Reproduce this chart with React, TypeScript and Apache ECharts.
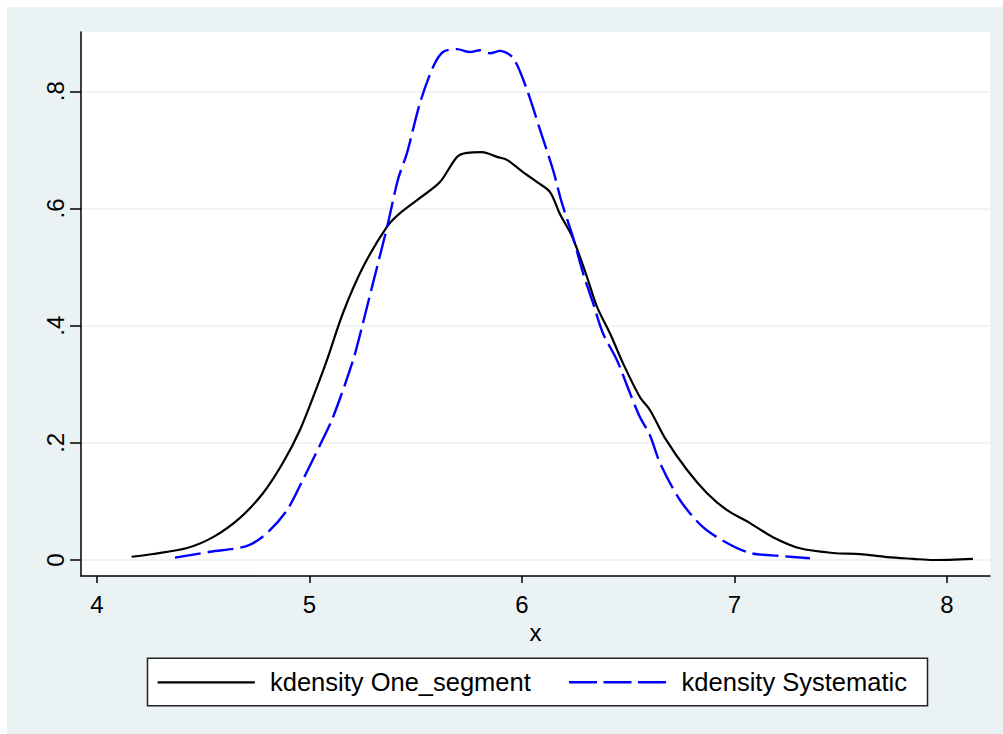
import React, { useEffect, useRef } from "react";
import * as echarts from "echarts";

// kdensity One_segment (black solid)
const oneSegX = [4.163, 4.264, 4.424, 4.546, 4.673, 4.781, 4.875, 4.955, 5.035, 5.082, 5.158, 5.252, 5.365, 5.426, 5.52, 5.614, 5.694, 5.741, 5.812, 5.882, 5.929, 6.005, 6.071, 6.132, 6.179, 6.235, 6.306, 6.353, 6.414, 6.475, 6.555, 6.602, 6.673, 6.776, 6.871, 6.965, 7.073, 7.181, 7.308, 7.464, 7.591, 7.718, 7.84, 7.934, 8.122];
const oneSegY = [0.0056, 0.0102, 0.0205, 0.039, 0.072, 0.114, 0.166, 0.222, 0.295, 0.341, 0.422, 0.5, 0.569, 0.592, 0.618, 0.645, 0.688, 0.695, 0.696, 0.688, 0.683, 0.662, 0.645, 0.628, 0.59, 0.553, 0.483, 0.432, 0.387, 0.336, 0.278, 0.256, 0.208, 0.154, 0.114, 0.085, 0.063, 0.039, 0.02, 0.012, 0.01, 0.005, 0.002, 0.0, 0.002];

// kdensity Systematic (blue dashed)
const systX = [4.367, 4.532, 4.706, 4.8, 4.894, 4.969, 5.049, 5.111, 5.205, 5.252, 5.299, 5.365, 5.416, 5.459, 5.52, 5.581, 5.628, 5.694, 5.755, 5.802, 5.849, 5.896, 5.958, 6.024, 6.085, 6.146, 6.188, 6.24, 6.287, 6.334, 6.381, 6.447, 6.508, 6.555, 6.602, 6.649, 6.744, 6.852, 6.965, 7.073, 7.214, 7.355];
const systY = [0.004, 0.014, 0.024, 0.046, 0.085, 0.137, 0.196, 0.244, 0.341, 0.405, 0.473, 0.568, 0.649, 0.695, 0.78, 0.841, 0.867, 0.872, 0.867, 0.87, 0.865, 0.869, 0.857, 0.802, 0.734, 0.666, 0.609, 0.551, 0.49, 0.439, 0.387, 0.341, 0.285, 0.244, 0.213, 0.166, 0.102, 0.056, 0.029, 0.012, 0.007, 0.003];

const xTicks = [4, 5, 6, 7, 8];
const yTicks = [0, 0.2, 0.4, 0.6, 0.8];
const yTickLabels = ["0", ".2", ".4", ".6", ".8"];
const legendNames = ["kdensity One_segment", "kdensity Systematic"];
const xName = "x";

const FONT = "'Liberation Sans', Arial, Helvetica, sans-serif";
const BG = "#EAF2F3";

export default function App() {
  const ref = useRef<HTMLDivElement>(null);
  useEffect(() => {
    if (!ref.current) return;
    const chart = echarts.init(ref.current, null, { renderer: "svg" });
    const oneSeg = oneSegX.map((x, i) => [x, oneSegY[i]]);
    const syst = systX.map((x, i) => [x, systY[i]]);
    chart.setOption({
      animation: false,
      backgroundColor: BG,
      textStyle: { fontFamily: FONT },
      grid: {
        left: 74,
        top: 25,
        right: 13,
        bottom: 158,
        show: true,
        backgroundColor: "#ffffff",
        borderWidth: 0,
      },
      xAxis: {
        type: "value",
        min: 3.9247,
        max: 8.2024,
        name: xName,
        nameLocation: "middle",
        nameGap: 42,
        nameTextStyle: { fontSize: 24, color: "#000", fontFamily: FONT },
        axisLine: { show: true, onZero: false, lineStyle: { color: "#000", width: 1.5 } },
        axisTick: { show: true, length: 7, customValues: xTicks, lineStyle: { color: "#000", width: 1.5 } },
        axisLabel: { customValues: xTicks, fontSize: 24, color: "#000", margin: 16, fontFamily: FONT },
        splitLine: { show: false },
      },
      yAxis: {
        type: "value",
        min: -0.0273,
        max: 0.9012,
        axisLine: { show: true, onZero: false, lineStyle: { color: "#000", width: 1.5 } },
        axisTick: { show: true, length: 11, customValues: yTicks, lineStyle: { color: "#000", width: 1.5 } },
        axisLabel: {
          customValues: yTicks,
          fontSize: 24,
          color: "#000",
          rotate: 90,
          margin: 14,
          fontFamily: FONT,
          formatter: (v: number) => {
            const idx = yTicks.findIndex((t) => Math.abs(t - v) < 1e-6);
            return idx >= 0 ? yTickLabels[idx] : "";
          },
        },
        splitLine: { show: true, lineStyle: { color: BG, width: 1.5 } },
      },
      series: [
        {
          name: legendNames[0],
          type: "line",
          data: oneSeg,
          showSymbol: false,
          symbol: "none",
          smooth: 0.3,
          lineStyle: { color: "#000000", width: 2.2 },
          z: 3,
        },
        {
          name: legendNames[1],
          type: "line",
          data: syst,
          showSymbol: false,
          symbol: "none",
          smooth: 0.3,
          lineStyle: { color: "#0000FF", width: 2.4, type: [26, 7] },
          z: 4,
        },
      ],
      graphic: [
        {
          type: "rect",
          shape: { x: 140.5, y: 651.3, width: 780, height: 47.5 },
          style: { fill: "#ffffff", stroke: "#222", lineWidth: 1.5 },
        },
        {
          type: "line",
          shape: { x1: 150.6, y1: 675.3, x2: 247.9, y2: 675.3 },
          style: { stroke: "#000", lineWidth: 2.2 },
        },
        {
          type: "text",
          x: 263,
          y: 675.3,
          style: { text: legendNames[0], fontSize: 25.5, fontFamily: FONT, fill: "#000", verticalAlign: "middle", align: "left" },
        },
        {
          type: "line",
          shape: { x1: 562, y1: 675.3, x2: 659.4, y2: 675.3 },
          style: { stroke: "#0000FF", lineWidth: 2.4, lineDash: [28, 6.5] },
        },
        {
          type: "text",
          x: 674.6,
          y: 675.3,
          style: { text: legendNames[1], fontSize: 25.5, fontFamily: FONT, fill: "#000", verticalAlign: "middle", align: "left" },
        },
      ],
    });
    return () => chart.dispose();
  }, []);
  return (
    <div
      ref={ref}
      style={{ position: "absolute", left: 7, top: 7, width: 996, height: 727 }}
    />
  );
}
